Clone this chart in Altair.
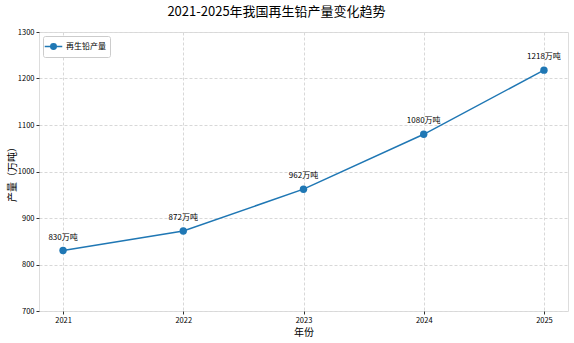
import altair as alt
import pandas as pd

years = [2021, 2022, 2023, 2024, 2025]
values = [830, 872, 962, 1080, 1218]
labels = ["830万吨", "872万吨", "962万吨", "1080万吨", "1218万吨"]
series_name = "再生铅产量"

df = pd.DataFrame({"year": years, "value": values, "label": labels, "series": [series_name] * len(years)})

FONT = "Noto Sans CJK SC"
BLUE = "#1f77b4"

x = alt.X("year:Q", scale=alt.Scale(domain=[2020.8, 2025.2], nice=False, zero=False),
          axis=alt.Axis(values=years, format="d", title="年份", titleFontSize=10, titleFont=FONT,
                        titleFontWeight="normal", titleColor="#000", titlePadding=4,
                        labelFontSize=7.5, labelColor="#000", tickSize=3, tickColor="#333",
                        domain=False, gridDash=[3, 2], gridColor="#d8d8d8", labelPadding=2))
y = alt.Y("value:Q", scale=alt.Scale(domain=[700, 1300], nice=False, zero=False),
          axis=alt.Axis(values=[700, 800, 900, 1000, 1100, 1200, 1300], format="d", title="产量（万吨）",
                        titleFontSize=10, titleFont=FONT, titleFontWeight="normal", titleColor="#000",
                        titleX=-22, labelFontSize=7.5, labelColor="#000", tickSize=3,
                        tickColor="#333", domain=False, gridDash=[3, 2], gridColor="#d8d8d8",
                        labelPadding=2))

legend_symbol = "M -1.6 0 L 1.6 0 M 0.5 0 A 0.5 0.5 0 1 1 -0.5 0 A 0.5 0.5 0 1 1 0.5 0 Z"

color = alt.Color("series:N", scale=alt.Scale(range=[BLUE]),
                  legend=alt.Legend(title=None, orient="top-left", offset=4,
                                    symbolType=legend_symbol, symbolSize=120, symbolStrokeWidth=1.5,
                                    symbolFillColor=BLUE, labelFontSize=8, labelFont=FONT,
                                    labelColor="#000", fillColor="white", strokeColor="#ccc",
                                    padding=4, cornerRadius=2, labelOffset=6))

base = alt.Chart(df)
line = base.mark_line(strokeWidth=1.5).encode(x=x, y=y, color=color)
pts = base.mark_circle(size=55, opacity=1).encode(x=x, y=y, color=alt.Color("series:N", scale=alt.Scale(range=[BLUE]), legend=None))
txt = base.mark_text(dy=-13, fontSize=8, font=FONT, color="#000").encode(x=x, y=y, text="label:N")

chart = alt.layer(line, pts, txt).properties(
    width=529, height=279,
    autosize=alt.AutoSizeParams(type="none"),
    padding={"left": 39, "top": 32, "right": 6, "bottom": 32},
    title=alt.TitleParams("2021-2025年我国再生铅产量变化趋势", fontSize=13, font=FONT,
                          fontWeight="normal", color="#000", anchor="middle", offset=9, dx=-27),
).configure_view(stroke="#333", strokeWidth=1).configure(font=FONT)

chart.save("out.html", embed_options={"renderer": "svg", "actions": False})
